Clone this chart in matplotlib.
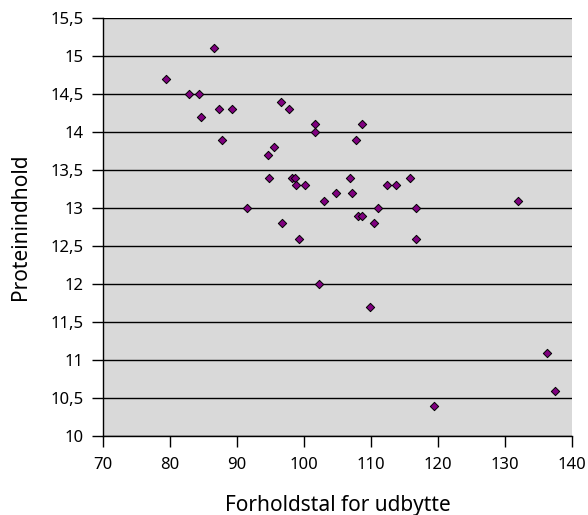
import matplotlib
matplotlib.use("Agg")
import matplotlib.pyplot as plt
from matplotlib.ticker import FuncFormatter, MultipleLocator

plt.rcParams['font.family'] = ['Noto Sans', 'DejaVu Sans']

# forholdstal for udbytte
udbytte = [86.6, 79.4, 82.8, 84.4, 84.6, 87.3, 89.3, 87.7, 96.5, 97.7,
           101.6, 101.7, 94.6, 95.5, 94.8, 98.2, 98.7, 98.8, 100.1, 91.5,
           96.7, 99.3, 102.2, 108.7, 107.7, 106.8, 115.8, 112.4, 113.7, 104.8,
           107.1, 103.0, 131.9, 111.1, 116.7, 108.0, 108.6, 110.4, 116.7, 109.9,
           136.3, 137.5, 119.4]
# proteinindhold
protein = [15.1, 14.7, 14.5, 14.5, 14.2, 14.3, 14.3, 13.9, 14.4, 14.3,
           14.1, 14.0, 13.7, 13.8, 13.4, 13.4, 13.4, 13.3, 13.3, 13.0,
           12.8, 12.6, 12.0, 14.1, 13.9, 13.4, 13.4, 13.3, 13.3, 13.2,
           13.2, 13.1, 13.1, 13.0, 13.0, 12.9, 12.9, 12.8, 12.6, 11.7,
           11.1, 10.6, 10.4]


def komma(v, pos):
    s = ('%g' % v)
    return s.replace('.', ',')


fig = plt.figure(figsize=(5.88, 5.15), dpi=100)
ax = fig.add_axes([0.175, 0.153, 0.798, 0.812])
ax.set_facecolor('#d9d9d9')

ax.set_xlim(70, 140)
ax.set_ylim(10, 15.5)
ax.xaxis.set_major_locator(MultipleLocator(10))
ax.yaxis.set_major_locator(MultipleLocator(0.5))
ax.yaxis.set_major_formatter(FuncFormatter(komma))

ax.grid(axis='y', color='black', linewidth=1.0)
ax.set_axisbelow(True)

ax.scatter(udbytte, protein, marker='D', s=18, facecolor='#800080',
           edgecolor='black', linewidth=0.7, zorder=3)

for side in ['top', 'right']:
    ax.spines[side].set_visible(False)
for side in ['left', 'bottom']:
    ax.spines[side].set_linewidth(1.0)

ax.tick_params(axis='both', direction='out', length=8, width=1.0,
               labelsize=12)
ax.tick_params(axis='x', pad=7)
ax.tick_params(axis='y', pad=6)

ax.set_xlabel('Forholdstal for udbytte', fontsize=15, labelpad=16)
ax.set_ylabel('Proteinindhold', fontsize=15, labelpad=14)

fig.savefig('out.png', dpi=100)
